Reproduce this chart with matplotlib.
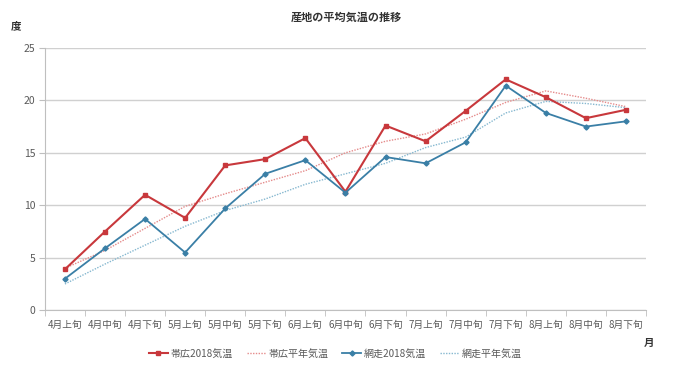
import matplotlib
matplotlib.use("Agg")
import matplotlib.pyplot as plt
import numpy as np

plt.rcParams['font.family'] = ['Noto Sans CJK JP', 'DejaVu Sans']

categories = ["4月上旬", "4月中旬", "4月下旬", "5月上旬", "5月中旬", "5月下旬",
              "6月上旬", "6月中旬", "6月下旬", "7月上旬", "7月中旬", "7月下旬",
              "8月上旬", "8月中旬", "8月下旬"]
obihiro_2018 = [3.9, 7.5, 11.0, 8.8, 13.8, 14.4, 16.4, 11.3, 17.6, 16.1, 19.0, 22.0, 20.3, 18.3, 19.1]
obihiro_normal = [4.0, 5.7, 7.8, 9.9, 11.1, 12.2, 13.3, 15.0, 16.1, 16.8, 18.2, 19.8, 20.9, 20.2, 19.4]
abashiri_2018 = [3.0, 5.9, 8.7, 5.5, 9.7, 13.0, 14.3, 11.2, 14.6, 14.0, 16.0, 21.4, 18.8, 17.5, 18.0]
abashiri_normal = [2.5, 4.4, 6.2, 8.0, 9.5, 10.6, 12.0, 13.0, 14.0, 15.5, 16.5, 18.8, 19.9, 19.7, 19.3]
series_names = ["帯広2018気温", "帯広平年気温", "網走2018気温", "網走平年気温"]

red = "#c8383c"
blue = "#3a7fa6"
red_light = "#e58b8b"
blue_light = "#86b8d0"

fig = plt.figure(figsize=(6.8, 3.83), dpi=100)
ax = fig.add_axes([0.066, 0.19, 0.884, 0.685])

x = np.arange(len(categories))
ax.plot(x, obihiro_2018, color=red, lw=1.5, marker='s', ms=3.2, label=series_names[0], zorder=4)
ax.plot(x, obihiro_normal, color=red_light, lw=1.0, ls=(0, (1, 1)), label=series_names[1], zorder=3)
ax.plot(x, abashiri_2018, color=blue, lw=1.3, marker='D', ms=2.6, label=series_names[2], zorder=4)
ax.plot(x, abashiri_normal, color=blue_light, lw=1.0, ls=(0, (1, 1)), label=series_names[3], zorder=3)

ax.set_xlim(-0.5, len(categories) - 0.5)
ax.set_ylim(0, 25)
ax.set_yticks([0, 5, 10, 15, 20, 25])
ax.set_xticks(x)
ax.set_xticklabels(categories)
ax.set_xticks(np.arange(-0.5, len(categories)), minor=True)
ax.tick_params(axis='x', which='major', length=0, pad=7, labelsize=7, labelcolor="#595959")
ax.tick_params(axis='x', which='minor', length=4, color="#bfbfbf")
ax.tick_params(axis='y', length=4, color="#bfbfbf", labelsize=7.5, labelcolor="#595959", pad=3)

ax.grid(axis='y', color="#d0d0d0", lw=1.0)
ax.set_axisbelow(True)
for s in ['top', 'right']:
    ax.spines[s].set_visible(False)
ax.spines['left'].set_color("#bfbfbf")
ax.spines['bottom'].set_color("#bfbfbf")

fig.text(0.51, 0.955, "産地の平均気温の推移", ha='center', va='center', fontsize=8, fontweight='bold', color="#333333")
fig.text(0.023, 0.933, "度", ha='center', va='center', fontsize=7.5, fontweight='bold', color="#333333")
fig.text(0.955, 0.105, "月", ha='center', va='center', fontsize=7.5, fontweight='bold', color="#333333")

leg = fig.legend(loc='center', bbox_to_anchor=(0.493, 0.077), ncol=4, frameon=False,
                 fontsize=7.2, handlelength=1.9, columnspacing=1.4, handletextpad=0.25)
for t in leg.get_texts():
    t.set_color("#595959")

fig.savefig("out.png", dpi=100)
